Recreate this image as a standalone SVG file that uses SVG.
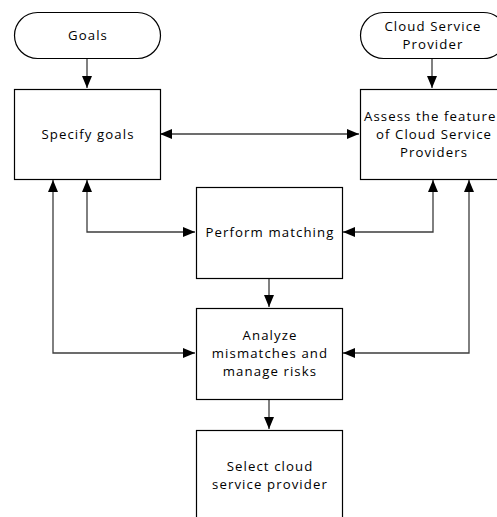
<svg xmlns="http://www.w3.org/2000/svg" width="497" height="517" viewBox="0 0 497 517">
  <style>
    .shape { fill: #ffffff; stroke: #000000; stroke-width: 1.2; }
    .label { font-family: "Open Sans", "Noto Sans", "Liberation Sans", sans-serif; font-size: 13.2px; letter-spacing: 1.1px; fill: #000000; text-anchor: middle; }
    .wire { fill: none; stroke: #3c3c3c; stroke-width: 1.3; }
  </style>
  <defs>
    <marker id="head" viewBox="0 0 12 10" refX="12" refY="5" markerWidth="12" markerHeight="10" markerUnits="userSpaceOnUse" orient="auto-start-reverse">
      <path d="M0,0 L12,5 L0,10 z" fill="#000000"/>
    </marker>
  </defs>
  <rect width="497" height="517" fill="#ffffff"/>

  <g id="connectors">
    <path class="wire" d="M87,58 V88" marker-end="url(#head)"/>
    <path class="wire" d="M432,58 V88" marker-end="url(#head)"/>
    <path class="wire" d="M160,134 H359" marker-start="url(#head)" marker-end="url(#head)"/>
    <path class="wire" d="M87,180 V232 H195" marker-start="url(#head)" marker-end="url(#head)"/>
    <path class="wire" d="M343,232 H433 V180" marker-start="url(#head)" marker-end="url(#head)"/>
    <path class="wire" d="M53,180 V353 H195" marker-start="url(#head)" marker-end="url(#head)"/>
    <path class="wire" d="M343,353 H469 V180" marker-start="url(#head)" marker-end="url(#head)"/>
    <path class="wire" d="M269,278 V307" marker-end="url(#head)"/>
    <path class="wire" d="M269,399 V429" marker-end="url(#head)"/>
  </g>

  <g id="goals">
    <rect class="shape" x="14.5" y="12.5" width="146" height="46" rx="23" ry="23"/>
    <text class="label" x="88" y="40">Goals</text>
  </g>

  <g id="cloud-service-provider">
    <rect class="shape" x="360.5" y="12.5" width="146" height="46" rx="23" ry="23"/>
    <text class="label" x="433" y="31">Cloud Service</text>
    <text class="label" x="433" y="49">Provider</text>
  </g>

  <g id="specify-goals">
    <rect class="shape" x="14.5" y="89.5" width="146" height="90"/>
    <text class="label" x="88" y="139">Specify goals</text>
  </g>

  <g id="assess-features">
    <rect class="shape" x="360.5" y="89.5" width="146" height="90"/>
    <text class="label" x="364" y="121" style="text-anchor: start">Assess the feature</text>
    <text class="label" x="434" y="139">of Cloud Service</text>
    <text class="label" x="434" y="157">Providers</text>
  </g>

  <g id="perform-matching">
    <rect class="shape" x="196.5" y="187.5" width="146" height="91"/>
    <text class="label" x="270" y="237">Perform matching</text>
  </g>

  <g id="analyze-mismatches">
    <rect class="shape" x="196.5" y="308.5" width="146" height="91"/>
    <text class="label" x="270" y="340">Analyze</text>
    <text class="label" x="270" y="358">mismatches and</text>
    <text class="label" x="270" y="376">manage risks</text>
  </g>

  <g id="select-provider">
    <rect class="shape" x="196.5" y="430.5" width="146" height="100"/>
    <text class="label" x="270" y="471">Select cloud</text>
    <text class="label" x="270" y="489">service provider</text>
  </g>
</svg>
